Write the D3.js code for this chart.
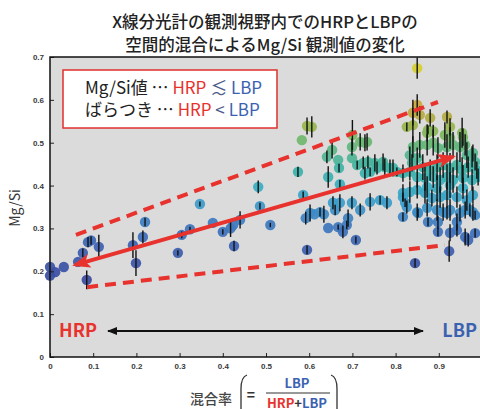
<!DOCTYPE html>
<html>
<head>
<meta charset="utf-8">
<script src="https://cdn.jsdelivr.net/npm/d3@7"></script>
<style>
  body { margin: 0; background: #fff; }
  text { white-space: pre; }
</style>
</head>
<body>
<svg id="chart"></svg>
<script>
// mixing ratio (LBP / (HRP+LBP))
var mixRatio = [
  0.000, 0.000, 0.012, 0.032, 0.065, 0.076, 0.085, 0.088, 0.095, 0.113,
  0.192, 0.199, 0.215, 0.220, 0.296, 0.305, 0.324, 0.347, 0.377, 0.400,
  0.418, 0.424, 0.426, 0.440, 0.482, 0.486, 0.510,
  0.574, 0.586, 0.595, 0.606, 0.583, 0.595, 0.592, 0.602, 0.612, 0.625,
  0.634, 0.644, 0.660, 0.655, 0.671, 0.667, 0.678, 0.687, 0.690, 0.699,
  0.708, 0.641, 0.653, 0.667, 0.669, 0.644, 0.671, 0.699, 0.699, 0.700,
  0.711, 0.718, 0.718, 0.729, 0.734, 0.725, 0.736, 0.741, 0.741, 0.752,
  0.757, 0.764, 0.771, 0.775, 0.780, 0.787, 0.794, 0.803, 0.729,
  0.850, 0.850, 0.840, 0.856, 0.826, 0.840, 0.880, 0.875, 0.919, 0.926,
  0.887, 0.914, 0.954, 0.956, 0.979, 0.873, 0.926, 0.956, 0.840, 0.856,
  0.873, 0.887, 0.898, 0.833, 0.850, 0.838, 0.919, 0.933, 0.949, 0.961,
  0.965, 0.977, 0.984, 0.863, 0.880, 0.896, 0.910, 0.926, 0.942, 0.954,
  0.968, 0.988, 0.850, 0.868, 0.887, 0.903, 0.919, 0.933, 0.956, 0.977,
  0.991, 0.833, 0.817, 0.817, 0.833, 0.850, 0.868, 0.884, 0.903, 0.919,
  0.942, 0.965, 0.979, 0.873, 0.896, 0.926, 0.956, 0.826, 0.850, 0.873,
  0.896, 0.910, 0.926, 0.949, 0.979, 0.817, 0.852, 0.875, 0.898, 0.898,
  0.919, 0.926, 0.942, 0.961, 0.968, 0.984, 0.942, 0.961, 0.972, 0.984,
  0.924, 0.845, 0.817, 0.822
];

// observed Mg/Si
var mgSi = [
  0.210, 0.190, 0.198, 0.210, 0.222, 0.243, 0.180, 0.268, 0.272, 0.257,
  0.261, 0.219, 0.280, 0.315, 0.243, 0.285, 0.298, 0.357, 0.313, 0.292,
  0.300, 0.308, 0.259, 0.320, 0.397, 0.352, 0.308,
  0.432, 0.378, 0.539, 0.537, 0.506, 0.250, 0.324, 0.336, 0.333, 0.338,
  0.333, 0.301, 0.343, 0.360, 0.360, 0.303, 0.292, 0.308, 0.324, 0.360,
  0.273, 0.467, 0.483, 0.460, 0.441, 0.420, 0.403, 0.490, 0.464, 0.518,
  0.448, 0.502, 0.343, 0.500, 0.502, 0.453, 0.455, 0.432, 0.362, 0.453,
  0.441, 0.366, 0.455, 0.443, 0.360, 0.441, 0.441, 0.432, 0.429,
  0.674, 0.588, 0.570, 0.565, 0.537, 0.541, 0.558, 0.530, 0.560, 0.537,
  0.527, 0.518, 0.523, 0.495, 0.476, 0.523, 0.511, 0.513, 0.490, 0.495,
  0.495, 0.500, 0.488, 0.471, 0.464, 0.453, 0.490, 0.495, 0.490, 0.495,
  0.471, 0.467, 0.455, 0.443, 0.436, 0.443, 0.448, 0.441, 0.448, 0.436,
  0.443, 0.436, 0.420, 0.418, 0.420, 0.413, 0.420, 0.413, 0.418, 0.413,
  0.420, 0.432, 0.429, 0.383, 0.385, 0.390, 0.383, 0.371, 0.373, 0.378,
  0.373, 0.366, 0.378, 0.397, 0.394, 0.401, 0.394, 0.350, 0.338, 0.348,
  0.343, 0.338, 0.343, 0.336, 0.338, 0.327, 0.336, 0.315, 0.315, 0.292,
  0.336, 0.290, 0.296, 0.280, 0.273, 0.289, 0.315, 0.343, 0.343, 0.331,
  0.247, 0.219, 0.373, 0.360
];

// half length of the error bars (0 = none)
var errHalf = [
  0, 0, 0, 0, 0, 0.010, 0.022, 0.012, 0.010, 0.028,
  0.030, 0.030, 0.015, 0.010, 0.006, 0.008, 0.006, 0.006, 0, 0.006,
  0.020, 0, 0.012, 0.020, 0.015, 0.008, 0.005,
  0.012, 0.008, 0.020, 0.025, 0, 0.010, 0.015, 0.020, 0, 0.010,
  0.020, 0, 0.012, 0.015, 0.020, 0.006, 0.015, 0.010, 0.020, 0.015,
  0.008, 0.015, 0.020, 0, 0.010, 0.025, 0.010, 0.020, 0, 0.035,
  0.010, 0.020, 0.015, 0.020, 0.020, 0.015, 0.015, 0.010, 0.020, 0.020,
  0.015, 0.010, 0.020, 0.020, 0.015, 0.020, 0.020, 0.010, 0.015,
  0.025, 0.025, 0.030, 0.020, 0.010, 0.040, 0.020, 0.010, 0.015, 0.020,
  0.015, 0.030, 0.035, 0, 0.020, 0.020, 0.025, 0.020, 0.025, 0.030,
  0.025, 0.030, 0.025, 0.020, 0.025, 0.020, 0.030, 0.030, 0.035, 0.025,
  0.030, 0.025, 0.020, 0.030, 0.025, 0.030, 0.030, 0.035, 0.030, 0.030,
  0.025, 0.020, 0.025, 0.030, 0.025, 0.030, 0.030, 0.030, 0.030, 0.025,
  0.020, 0.020, 0.020, 0.020, 0.025, 0.020, 0.025, 0.020, 0.025, 0.030,
  0.025, 0.025, 0.020, 0.025, 0.030, 0.030, 0.025, 0.015, 0.020, 0.020,
  0.025, 0.020, 0.025, 0.020, 0.020, 0.010, 0.010, 0.010, 0.015, 0.010,
  0.015, 0.020, 0.015, 0.020, 0.015, 0.010, 0.020, 0.020, 0.015, 0.010,
  0.025, 0.010, 0.010, 0.010
];

var xTicks = [0, 0.1, 0.2, 0.3, 0.4, 0.5, 0.6, 0.7, 0.8, 0.9, 1];
var yTicks = [0, 0.1, 0.2, 0.3, 0.4, 0.5, 0.6, 0.7];

// guide lines: [x, Mg/Si] end points
var trendArrow = [[0.058, 0.215], [0.933, 0.467]];
var upperBound = [[0.060, 0.285], [0.898, 0.595]];
var lowerBound = [[0.086, 0.163], [0.914, 0.261]];

var dimensions = { width: 480, height: 409, margin: { top: 57, right: -2, bottom: 52, left: 50 } };

var red = "#e8322d", blue = "#3b62b0";
var jp = "'Noto Sans CJK JP', 'Noto Sans', sans-serif";

var svg = d3.select("#chart")
    .attr("width", dimensions.width)
    .attr("height", dimensions.height);

var xScale = d3.scaleLinear()
    .domain([0, 1])
    .range([dimensions.margin.left, dimensions.width - dimensions.margin.right]);

var yScale = d3.scaleLinear()
    .domain([0, 0.7])
    .range([dimensions.height - dimensions.margin.bottom, dimensions.margin.top]);

// colour follows Mg/Si value
var colorScale = d3.scaleLinear()
    .domain([0.18, 0.26, 0.32, 0.36, 0.40, 0.44, 0.48, 0.51, 0.545, 0.58, 0.67])
    .range(["#3a4a9e", "#3d62b2", "#3e7fc2", "#3b9dcb", "#37afc0", "#3db3a6",
             "#58b68a", "#74b86a", "#a0b445", "#cba23e", "#d5cf2e"])
    .clamp(true);

var points = mixRatio.map((d, i) => ({ x: d, y: mgSi[i], e: errHalf[i] }));

// plot background
svg.append("rect")
    .attr("x", xScale(0))
    .attr("y", yScale(0.7))
    .attr("width", xScale(1) - xScale(0))
    .attr("height", yScale(0) - yScale(0.7))
    .attr("fill", "#dcdbdb");

// points
svg.append("g")
    .selectAll("circle")
    .data(points)
    .enter()
    .append("circle")
    .attr("cx", d => xScale(d.x))
    .attr("cy", d => yScale(d.y))
    .attr("r", 5.2)
    .attr("fill", d => colorScale(d.y))
    .attr("opacity", 0.92);

// error bars
svg.append("g")
    .selectAll("line")
    .data(points.filter(d => d.e > 0))
    .enter()
    .append("line")
    .attr("x1", d => xScale(d.x))
    .attr("x2", d => xScale(d.x))
    .attr("y1", d => yScale(d.y - d.e))
    .attr("y2", d => yScale(d.y + d.e))
    .attr("stroke", "#111")
    .attr("stroke-width", 1.4);

// axes
var xAxis = svg.append("g")
    .attr("transform", `translate(0,${yScale(0)})`)
    .call(d3.axisBottom(xScale).tickValues(xTicks).tickSizeInner(-4).tickSizeOuter(0)
        .tickPadding(6).tickFormat(d3.format("~g")));

var yAxis = svg.append("g")
    .attr("transform", `translate(${xScale(0)},0)`)
    .call(d3.axisLeft(yScale).tickValues(yTicks).tickSizeInner(-4).tickSizeOuter(0)
        .tickPadding(6).tickFormat(d3.format("~g")));

[xAxis, yAxis].forEach(function(ax) {
    ax.select(".domain").remove();
    ax.selectAll("line").attr("stroke", "#222");
    ax.selectAll("text")
        .attr("font-family", "'Liberation Sans', Arial, sans-serif")
        .attr("font-size", 8)
        .attr("font-weight", "bold")
        .attr("fill", "#3a3a3a");
});

svg.append("rect")
    .attr("x", xScale(0))
    .attr("y", yScale(0.7))
    .attr("width", xScale(1) - xScale(0))
    .attr("height", yScale(0) - yScale(0.7))
    .attr("fill", "none")
    .attr("stroke", "#111")
    .attr("stroke-width", 1.5);

// markers
var defs = svg.append("defs");
defs.append("marker")
    .attr("id", "redHead")
    .attr("markerUnits", "userSpaceOnUse")
    .attr("viewBox", "0 0 18 14")
    .attr("markerWidth", 18)
    .attr("markerHeight", 14)
    .attr("refX", 15)
    .attr("refY", 7)
    .attr("orient", "auto-start-reverse")
    .append("path")
    .attr("d", "M0,0 L18,7 L0,14 L4,7 Z")
    .attr("fill", red);

defs.append("marker")
    .attr("id", "blackHead")
    .attr("markerUnits", "userSpaceOnUse")
    .attr("viewBox", "0 0 10 8")
    .attr("markerWidth", 10)
    .attr("markerHeight", 8)
    .attr("refX", 9)
    .attr("refY", 4)
    .attr("orient", "auto-start-reverse")
    .append("path")
    .attr("d", "M0,0 L10,4 L0,8 Z")
    .attr("fill", "#111");

var line = d3.line().x(d => xScale(d[0])).y(d => yScale(d[1]));

[upperBound, lowerBound].forEach(function(b) {
    svg.append("path")
        .attr("d", line(b))
        .attr("fill", "none")
        .attr("stroke", red)
        .attr("stroke-width", 4)
        .attr("stroke-dasharray", "11,7");
});

svg.append("path")
    .attr("d", line(trendArrow))
    .attr("fill", "none")
    .attr("stroke", red)
    .attr("stroke-width", 4)
    .attr("marker-start", "url(#redHead)")
    .attr("marker-end", "url(#redHead)");

// HRP <-> LBP
svg.append("line")
    .attr("x1", 108).attr("x2", 423)
    .attr("y1", 331).attr("y2", 331)
    .attr("stroke", "#111")
    .attr("stroke-width", 2)
    .attr("marker-start", "url(#blackHead)")
    .attr("marker-end", "url(#blackHead)");

svg.append("text")
    .attr("x", 59).attr("y", 337)
    .attr("font-family", jp).attr("font-size", 18).attr("font-weight", "bold")
    .attr("fill", red)
    .text("HRP");

svg.append("text")
    .attr("x", 477).attr("y", 337)
    .attr("text-anchor", "end")
    .attr("font-family", jp).attr("font-size", 18).attr("font-weight", "bold")
    .attr("fill", blue)
    .text("LBP");

// legend box
svg.append("rect")
    .attr("x", 63).attr("y", 70)
    .attr("width", 214).attr("height", 58)
    .attr("fill", "#fff")
    .attr("stroke", "#e0302c")
    .attr("stroke-width", 1.5);

var l1 = svg.append("text")
    .attr("x", 85).attr("y", 94)
    .attr("font-family", jp).attr("font-size", 17).attr("font-weight", 400);
l1.append("tspan").attr("fill", "#222").text("Mg/Si値 … ");
l1.append("tspan").attr("fill", red).text("HRP");
l1.append("tspan").attr("fill", "#4a5a8a").text(" ≲ ");
l1.append("tspan").attr("fill", blue).text("LBP");

var l2 = svg.append("text")
    .attr("x", 85).attr("y", 116)
    .attr("font-family", jp).attr("font-size", 17).attr("font-weight", 400);
l2.append("tspan").attr("fill", "#222").text("ばらつき … ");
l2.append("tspan").attr("fill", red).text("HRP");
l2.append("tspan").attr("fill", "#4a5a8a").text(" < ");
l2.append("tspan").attr("fill", blue).text("LBP");

// title
svg.append("text")
    .attr("x", 265).attr("y", 28)
    .attr("text-anchor", "middle")
    .attr("font-family", jp).attr("font-size", 16.5).attr("font-weight", 500)
    .attr("fill", "#222")
    .text("X線分光計の観測視野内でのHRPとLBPの");

svg.append("text")
    .attr("x", 265).attr("y", 51)
    .attr("text-anchor", "middle")
    .attr("font-family", jp).attr("font-size", 16.5).attr("font-weight", 500)
    .attr("fill", "#222")
    .text("空間的混合によるMg/Si 観測値の変化");

// y label
svg.append("text")
    .attr("transform", "translate(20,208)rotate(-90)")
    .attr("text-anchor", "middle")
    .attr("font-family", jp).attr("font-size", 14)
    .attr("fill", "#333")
    .text("Mg/Si");

// x label with fraction
svg.append("text")
    .attr("x", 190).attr("y", 404)
    .attr("font-family", jp).attr("font-size", 14).attr("font-weight", 500)
    .attr("fill", "#444")
    .text("混合率");

svg.append("path")
    .attr("d", "M247,375 Q241,377 241,389 L241,412")
    .attr("fill", "none").attr("stroke", "#333").attr("stroke-width", 1.3);
svg.append("path")
    .attr("d", "M331,375 Q337,377 337,389 L337,412")
    .attr("fill", "none").attr("stroke", "#333").attr("stroke-width", 1.3);

svg.append("text")
    .attr("x", 251).attr("y", 400)
    .attr("text-anchor", "middle")
    .attr("font-family", jp).attr("font-size", 14).attr("font-weight", "bold")
    .attr("fill", "#333")
    .text("=");

svg.append("text")
    .attr("x", 297).attr("y", 388)
    .attr("text-anchor", "middle")
    .attr("font-family", jp).attr("font-size", 13).attr("font-weight", "bold")
    .attr("fill", blue)
    .text("LBP");

svg.append("line")
    .attr("x1", 266).attr("x2", 330)
    .attr("y1", 393).attr("y2", 393)
    .attr("stroke", "#333").attr("stroke-width", 1.2);

var den = svg.append("text")
    .attr("x", 297).attr("y", 408)
    .attr("text-anchor", "middle")
    .attr("font-family", jp).attr("font-size", 13).attr("font-weight", "bold");
den.append("tspan").attr("fill", red).text("HRP");
den.append("tspan").attr("fill", "#333").text("+");
den.append("tspan").attr("fill", blue).text("LBP");
</script>
</body>
</html>
